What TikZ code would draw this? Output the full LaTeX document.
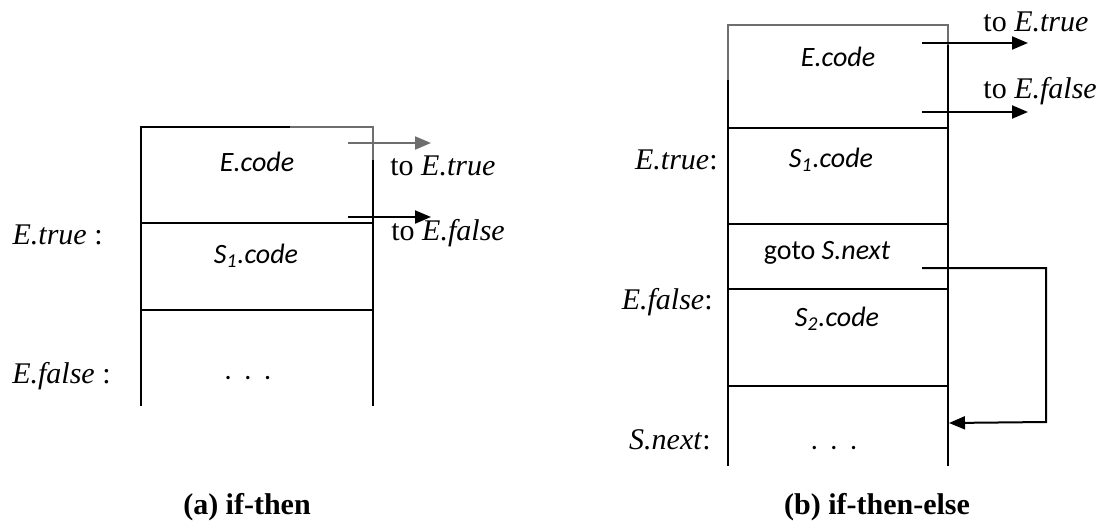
\documentclass[tikz,border=0pt]{standalone}
\usepackage{fontspec}
\setmainfont{Liberation Serif}
\newfontfamily\codefont{Carlito}
\usepackage{tikz}
\usetikzlibrary{arrows.meta, positioning}
\definecolor{fadedgray}{HTML}{6E6E6E}

\begin{document}
\begin{tikzpicture}[
    x=0.5pt, y=-0.5pt,
    cellline/.style = {line width=1.1pt, black},
    codetext/.style = {font=\codefont\fontsize{14}{16}\selectfont, inner sep=0pt},
    lbl/.style      = {font=\fontsize{15}{18}\selectfont, inner sep=0pt, anchor=east},
    jumptext/.style = {font=\fontsize{15}{18}\selectfont, inner sep=0pt, anchor=west},
    arrow/.style    = {-{Triangle[length=8pt, width=6.5pt]}, line width=1pt},
    caption/.style  = {font=\bfseries\fontsize{15}{18}\selectfont, inner sep=0pt}
  ]
  \useasboundingbox (0,0) rectangle (1107,525);

  % (a) if-then
  \draw[cellline] (141,406) -- (141,127) -- (290,127);
  \draw[cellline, fadedgray] (290,127) -- (373,127) -- (373,160);
  \draw[cellline] (373,160) -- (373,406);
  \draw[cellline] (141,223) -- (373,223);
  \draw[cellline] (141,310) -- (373,310);

  \node[codetext] (ecodeA) at (257,162) {\textit{E.code}};
  \node[codetext] (sonecodeA) at (256,256) {\textit{S\textsubscript{1}.code}};
  \node[codetext] (dotsA) at (248,378) {.\ \ .\ \ .};

  \node[lbl] (etrueA)  at (103,235) {\textit{E.true} :};
  \node[lbl] (efalseA) at (111,376) {\textit{E.false} :};

  \coordinate (trueoutA)  at (348,143);
  \coordinate (trueendA)  at (431,143);
  \coordinate (falseoutA) at (348,217);
  \coordinate (falseendA) at (431,217);
  \node[jumptext] (totrueA)  at (390,166) {to \textit{E.true}};
  \node[jumptext] (tofalseA) at (391,233) {to \textit{E.false}};

  \draw[arrow, fadedgray] (trueoutA) -- (trueendA);
  \draw[arrow] (falseoutA) -- (falseendA);

  % (b) if-then-else
  \draw[cellline, fadedgray] (728,80) -- (728,25) -- (948,25) -- (948,45);
  \draw[cellline] (728,80) -- (728,466);
  \draw[cellline] (948,45) -- (948,466);
  \foreach \y in {128, 224, 289, 386}
    \draw[cellline] (728,\y) -- (948,\y);

  \node[codetext] (ecodeB)    at (838,57)  {\textit{E.code}};
  \node[codetext] (sonecodeB) at (831,160) {\textit{S\textsubscript{1}.code}};
  \node[codetext] (gotoB)     at (827,253) {goto \textit{S.next}};
  \node[codetext] (stwocodeB) at (837,319) {\textit{S\textsubscript{2}.code}};
  \node[codetext] (dotsB)     at (834,448) {.\ \ .\ \ .};

  \node[lbl] (etrueB)  at (718,160) {\textit{E.true}:};
  \node[lbl] (efalseB) at (713,302) {\textit{E.false}:};
  \node[lbl] (snextB)  at (711,440) {\textit{S.next}:};

  \coordinate (trueoutB)  at (922,43);
  \coordinate (trueendB)  at (1028,43);
  \coordinate (falseoutB) at (922,112);
  \coordinate (falseendB) at (1028,112);
  \node[jumptext] (totrueB)  at (983,22) {to \textit{E.true}};
  \node[jumptext] (tofalseB) at (983,91) {to \textit{E.false}};

  \draw[arrow] (trueoutB) -- (trueendB);
  \draw[arrow] (falseoutB) -- (falseendB);

  \coordinate (gotoout)  at (922,268);
  \coordinate (gototurn) at (1046,268);
  \coordinate (gotodown) at (1046,422);
  \coordinate (snextin)  at (949,423);
  \draw[arrow] (gotoout) -- (gototurn) -- (gotodown) -- (snextin);

  % captions
  \node[caption] (capA) at (247,507) {(a) if-then};
  \node[caption] (capB) at (877,507) {(b) if-then-else};
\end{tikzpicture}
\end{document}
